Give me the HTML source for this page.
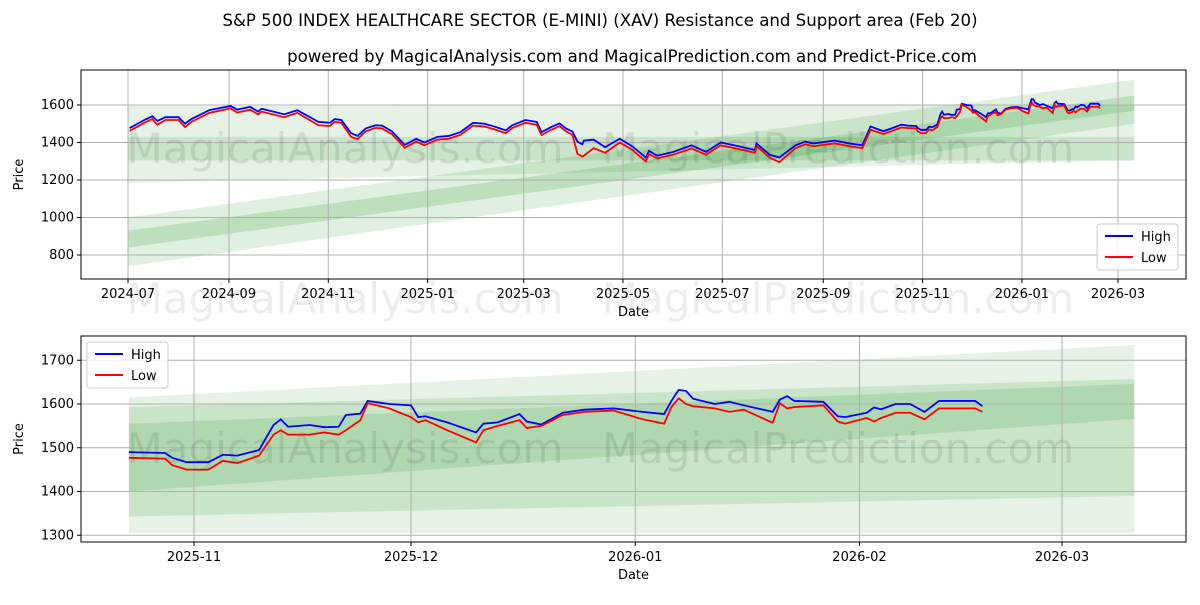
<!DOCTYPE html>
<html><head><meta charset="utf-8"><style>
body{margin:0;background:#fff;font-family:"Liberation Sans","DejaVu Sans",sans-serif}
svg text{font-family:"DejaVu Sans","Liberation Sans",sans-serif}
</style></head><body>
<svg id="c" width="1200" height="600" viewBox="0 0 1200 600" xmlns="http://www.w3.org/2000/svg">
<text x="600" y="26" text-anchor="middle" font-size="16.6">S&amp;P 500 INDEX HEALTHCARE SECTOR (E-MINI) (XAV) Resistance and Support area (Feb 20)</text>
<text x="632" y="62" text-anchor="middle" font-size="16.6">powered by MagicalAnalysis.com and MagicalPrediction.com and Predict-Price.com</text>
</svg>
<script>
const topDates=["2024-07-02","2024-07-11","2024-07-16","2024-07-19","2024-07-24","2024-08-01","2024-08-05","2024-08-09","2024-08-20","2024-09-02","2024-09-06","2024-09-14","2024-09-19","2024-09-21","2024-10-05","2024-10-13","2024-10-26","2024-11-02","2024-11-05","2024-11-09","2024-11-15","2024-11-19","2024-11-24","2024-11-30","2024-12-04","2024-12-10","2024-12-18","2024-12-25","2024-12-30","2025-01-07","2025-01-14","2025-01-21","2025-01-29","2025-02-05","2025-02-11","2025-02-18","2025-02-22","2025-03-02","2025-03-09","2025-03-12","2025-03-18","2025-03-23","2025-03-27","2025-03-31","2025-04-03","2025-04-06","2025-04-07","2025-04-13","2025-04-20","2025-04-29","2025-05-07","2025-05-08","2025-05-15","2025-05-17","2025-05-22","2025-06-01","2025-06-12","2025-06-21","2025-06-30","2025-07-11","2025-07-21","2025-07-22","2025-07-30","2025-08-05","2025-08-15","2025-08-21","2025-08-26","2025-09-08","2025-09-17","2025-09-25","2025-09-30","2025-10-08","2025-10-19"];
const topHigh=[1477,1520,1540,1515,1535,1535,1500,1525,1573,1595,1575,1590,1565,1580,1550,1572,1510,1505,1525,1520,1450,1435,1475,1492,1490,1460,1387,1420,1400,1430,1435,1455,1505,1500,1485,1465,1492,1520,1510,1455,1483,1502,1475,1458,1405,1390,1410,1415,1375,1420,1378,1370,1320,1355,1330,1350,1385,1350,1400,1380,1360,1395,1335,1320,1385,1405,1395,1410,1395,1385,1485,1460,1495];
const topLow=[1462,1505,1525,1495,1520,1520,1482,1510,1558,1582,1560,1575,1550,1565,1535,1558,1492,1488,1510,1505,1430,1418,1460,1478,1475,1445,1372,1405,1385,1415,1420,1440,1490,1485,1470,1450,1477,1505,1495,1440,1468,1487,1460,1440,1340,1325,1330,1370,1345,1400,1360,1350,1300,1338,1315,1335,1368,1335,1385,1365,1345,1380,1320,1295,1370,1390,1380,1395,1380,1370,1468,1445,1480];
const recDates=["2025-10-23","2025-10-28","2025-10-29","2025-10-31","2025-11-03","2025-11-05","2025-11-07","2025-11-10","2025-11-12","2025-11-13","2025-11-14","2025-11-17","2025-11-19","2025-11-21","2025-11-22","2025-11-24","2025-11-25","2025-11-28","2025-12-01","2025-12-02","2025-12-03","2025-12-06","2025-12-10","2025-12-11","2025-12-13","2025-12-16","2025-12-17","2025-12-19","2025-12-22","2025-12-25","2025-12-29","2026-01-02","2026-01-05","2026-01-06","2026-01-07","2026-01-08","2026-01-09","2026-01-12","2026-01-14","2026-01-16","2026-01-20","2026-01-21","2026-01-22","2026-01-23","2026-01-27","2026-01-29","2026-01-30","2026-02-02","2026-02-03","2026-02-04","2026-02-06","2026-02-08","2026-02-10","2026-02-12","2026-02-17","2026-02-18"];
const recHigh=[1490,1488,1477,1467,1467,1484,1482,1495,1552,1565,1548,1552,1547,1548,1575,1578,1607,1600,1597,1570,1572,1558,1535,1555,1558,1577,1560,1553,1580,1587,1590,1582,1577,1607,1632,1630,1612,1600,1605,1597,1582,1610,1618,1607,1605,1572,1570,1580,1592,1588,1600,1600,1582,1607,1607,1595];
const recLow=[1477,1475,1460,1450,1450,1470,1465,1482,1530,1540,1530,1530,1535,1530,1540,1563,1602,1590,1570,1558,1563,1540,1512,1540,1550,1563,1545,1550,1575,1582,1585,1565,1555,1593,1613,1600,1595,1590,1582,1587,1557,1602,1590,1593,1597,1560,1555,1568,1560,1568,1580,1580,1565,1590,1590,1582];
const topBandStart="2024-07-01", topBandEnd="2026-03-11";
const topBandLowStart=[1185,1305,740,840];
const topBandHighStart=[1595,1430,1000,930];
const topBandLowEnd=[1305,1305,1500,1570];
const topBandHighEnd=[1600,1430,1735,1650];
const recBandStart="2025-10-23", recBandEnd="2026-03-11";
const recBandLowStart=[1305,1343,1400];
const recBandHighStart=[1615,1593,1555];
const recBandLowEnd=[1305,1390,1566];
const recBandHighEnd=[1735,1657,1646];
const bandOpac=[0.1,0.12,0.12,0.15];
const topYTicks=[800,1000,1200,1400,1600];
const topXTicks=["2024-07","2024-09","2024-11","2025-01","2025-03","2025-05","2025-07","2025-09","2025-11","2026-01","2026-03"];
const recYTicks=[1300,1400,1500,1600,1700];
const recXTicks=["2025-11","2025-12","2026-01","2026-02","2026-03"];

const NS="http://www.w3.org/2000/svg", svg=document.getElementById('c');
function mk(t,a,p){const e=document.createElementNS(NS,t);for(const k in a)e.setAttribute(k,a[k]);(p||svg).appendChild(e);return e;}
const day=s=>Date.parse(s.length==7?s+"-01":s)/864e5;

function panel(o){
  const g=mk('g',{});
  
  
  const X=d=>o.x0+(day(d)-day(o.d0))*o.ppd;
  const Y=v=>o.y0+(o.v0-v)*o.ppv;
  mk('rect',{x:o.L,y:o.T,width:o.R-o.L,height:o.B-o.T,fill:'#fff'},g);
  for(let i=0;i<o.bl0.length;i++){
    const xa=X(o.bs),xb=X(o.be);
    const p=mk('polygon',{points:`${xa},${Y(o.bh0[i])} ${xb},${Y(o.bh1[i])} ${xb},${Y(o.bl1[i])} ${xa},${Y(o.bl0[i])}`,fill:'green','fill-opacity':bandOpac[i]},g);
    
    
  }
  o.yt.forEach(v=>{const y=Y(v);
    mk('line',{x1:o.L,x2:o.R,y1:y,y2:y,stroke:'#b0b0b0','stroke-width':1},g);
    mk('line',{x1:o.L-4,x2:o.L,y1:y,y2:y,stroke:'#000'},g);
    const t=mk('text',{x:o.L-7,y:y+4,'text-anchor':'end','font-size':13},g);t.textContent=v;
    
    });
  o.xt.forEach(d=>{const x=X(d);
    mk('line',{x1:x,x2:x,y1:o.T,y2:o.B,stroke:'#b0b0b0','stroke-width':1},g);
    mk('line',{x1:x,x2:x,y1:o.B,y2:o.B+4,stroke:'#000'},g);
    const t=mk('text',{x:x,y:o.B+19,'text-anchor':'middle','font-size':13},g);t.textContent=d;
    
    });
  [[345,'MagicalAnalysis.com'],[838,'MagicalPrediction.com']].forEach(w=>{
    const t=mk('text',{x:w[0],y:o.wy,'text-anchor':'middle','font-size':42,fill:'#000','fill-opacity':0.09},g);t.textContent=w[1];
    
    });
  const line=(ds,vs,c,n)=>{const p=mk('polyline',{points:ds.map((d,i)=>X(d)+','+Y(vs[i])).join(' '),fill:'none',stroke:c,'stroke-width':1.8},g);
    
    };
  line(o.dates,o.high,'#0000ff','high-line');
  line(o.dates,o.low,'#ff0000','low-line');
  mk('rect',{x:o.L,y:o.T,width:o.R-o.L,height:o.B-o.T,fill:'none',stroke:'#000'},g);
  const yl=mk('text',{x:0,y:0,transform:`translate(${o.L-58},${(o.T+o.B)/2}) rotate(-90)`,'text-anchor':'middle','font-size':13},g);yl.textContent='Price';
  
  
  const xl=mk('text',{x:(o.L+o.R)/2,y:o.B+37,'text-anchor':'middle','font-size':13},g);xl.textContent='Date';
  
  
  const lg=mk('g',{},g);
  
  
  mk('rect',{x:o.lx,y:o.ly,width:81,height:46,rx:3,fill:'#fff','fill-opacity':0.85,stroke:'#ccc'},lg);
  [['High','#0000ff'],['Low','#ff0000']].forEach((e,i)=>{const y=o.ly+12+i*21;
    mk('line',{x1:o.lx+8,x2:o.lx+36,y1:y,y2:y,stroke:e[1],'stroke-width':2},lg);
    const t=mk('text',{x:o.lx+44,y:y+5,'font-size':13},lg);t.textContent=e[0];
    
    });
}
panel({name:'full-history-panel',L:81,R:1186,T:70,B:279,x0:128,d0:'2024-07-01',ppd:990/608,y0:105,v0:1600,ppv:0.1875,
  bs:topBandStart,be:topBandEnd,bl0:topBandLowStart,bh0:topBandHighStart,bl1:topBandLowEnd,bh1:topBandHighEnd,
  yt:topYTicks,xt:topXTicks,wy:163,dates:topDates.concat(recDates),high:topHigh.concat(recHigh),low:topLow.concat(recLow),lx:1097,ly:224});
panel({name:'recent-panel',L:81,R:1186,T:336,B:542,x0:194,d0:'2025-11-01',ppd:868/120,y0:404,v0:1600,ppv:0.4375,
  bs:recBandStart,be:recBandEnd,bl0:recBandLowStart,bh0:recBandHighStart,bl1:recBandLowEnd,bh1:recBandHighEnd,
  yt:recYTicks,xt:recXTicks,wy:463,dates:recDates,high:recHigh,low:recLow,lx:87,ly:342});
const mw=[[345,'MagicalAnalysis.com'],[838,'MagicalPrediction.com']];
mw.forEach(w=>{const t=mk('text',{x:w[0],y:313,'text-anchor':'middle','font-size':42,fill:'#000','fill-opacity':0.07});t.textContent=w[1];
  
  });
</script>
</body></html>
